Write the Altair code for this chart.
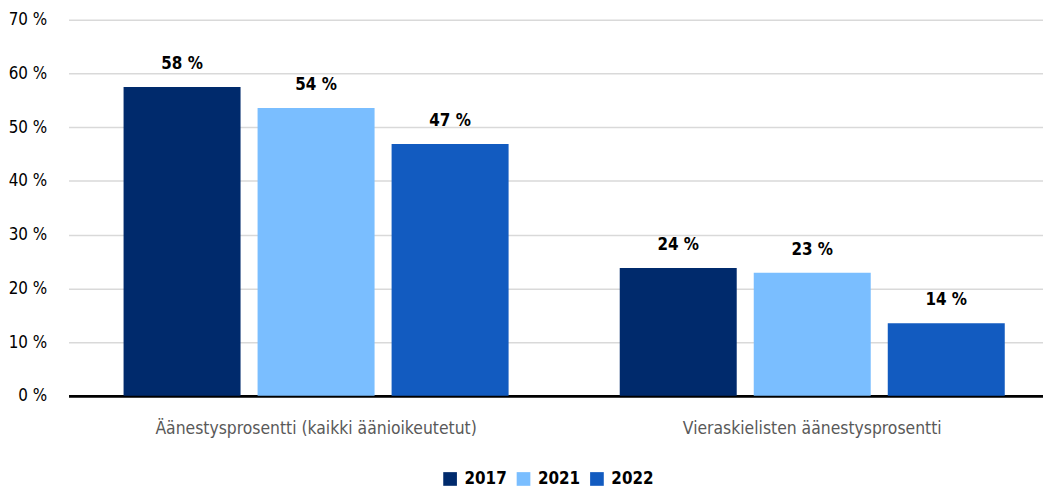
import altair as alt
import pandas as pd

categories = ["Äänestysprosentti (kaikki äänioikeutetut)", "Vieraskielisten äänestysprosentti"]
years = ["2017", "2021", "2022"]
values_2017 = [57.5, 23.8]
values_2021 = [53.6, 22.9]
values_2022 = [46.9, 13.5]
labels_2017 = ["58 %", "24 %"]
labels_2021 = ["54 %", "23 %"]
labels_2022 = ["47 %", "14 %"]
colors = ["#002a6c", "#7abeff", "#125bc0"]
y_ticks = [0, 10, 20, 30, 40, 50, 60, 70]

rows = []
for yr, vals, labs in zip(years, [values_2017, values_2021, values_2022],
                          [labels_2017, labels_2021, labels_2022]):
    for c, v, l in zip(categories, vals, labs):
        rows.append({"category": c, "year": yr, "value": v, "label": l})
df = pd.DataFrame(rows)

FONT = "DejaVu Sans Condensed, sans-serif"

x = alt.X("category:N", sort=categories, title=None,
          scale=alt.Scale(paddingInner=0.224, paddingOuter=0.094, align=0.59),
          axis=alt.Axis(labelAngle=0, labelFontSize=17.5, labelColor="#595959",
                        labelFont=FONT, labelPadding=24, labelLimit=0, ticks=False,
                        domainColor="#000000", domainWidth=3))
xo = alt.XOffset("year:N", sort=years,
                 scale=alt.Scale(paddingInner=0.127, paddingOuter=0))
y = alt.Y("value:Q", title=None,
          scale=alt.Scale(domain=[0, 70], nice=False),
          axis=alt.Axis(values=y_ticks, labelExpr="datum.value + ' %'",
                        labelFontSize=17, labelColor="#000000", labelFont=FONT,
                        labelPadding=22, ticks=False, domain=False,
                        gridColor="#d9d9d9", gridWidth=1.5))
color = alt.Color("year:N", sort=years,
                  scale=alt.Scale(domain=years, range=colors),
                  legend=alt.Legend(title=None, orient="none", direction="horizontal",
                                    legendX=376, legendY=454,
                                    symbolType="square", symbolSize=190,
                                    symbolStrokeWidth=0, symbolOpacity=1,
                                    labelFontSize=17, labelFontWeight="bold",
                                    labelFont=FONT, labelColor="#000000",
                                    columnPadding=8, labelOffset=6))

bars = alt.Chart(df).mark_bar().encode(x=x, xOffset=xo, y=y, color=color)
text = alt.Chart(df).mark_text(baseline="alphabetic", dy=-18, fontSize=17,
                               fontWeight="bold", font=FONT, color="#000000").encode(
    x=x, xOffset=xo, y=y, text="label:N")

chart = alt.layer(bars, text).properties(
    width=982, height=379,
    autosize=alt.AutoSizeParams(type="none"),
    padding={"left": 61, "top": 10, "right": 0, "bottom": 94},
).configure_view(stroke=None)

chart.save("out.html", embed_options={"renderer": "svg", "actions": False})
